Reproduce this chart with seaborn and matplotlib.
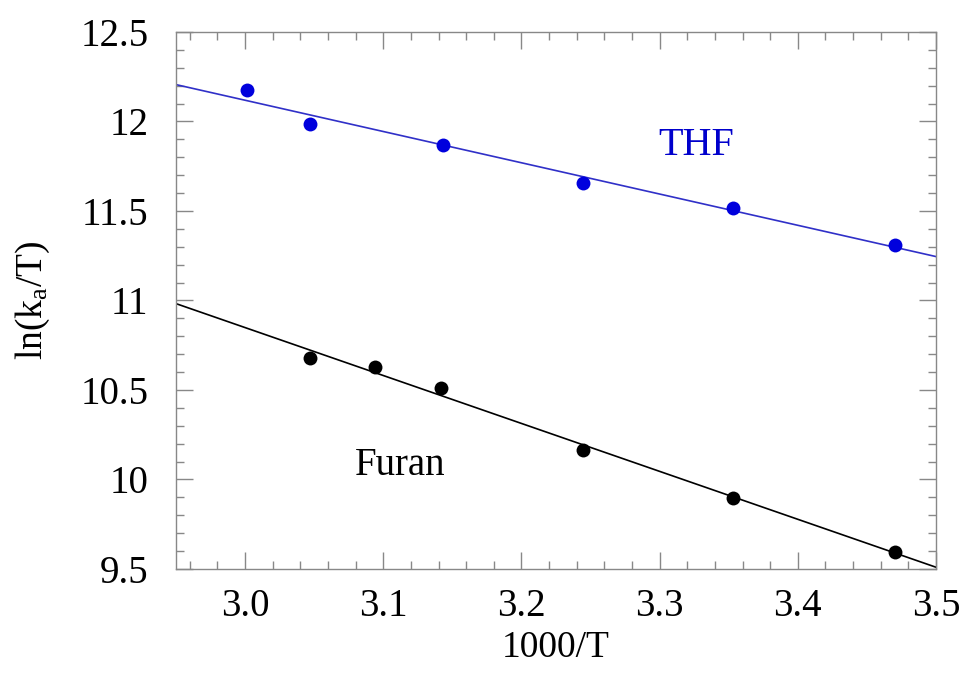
import numpy as np
import pandas as pd
import matplotlib
matplotlib.use('Agg')
import matplotlib.pyplot as plt
import seaborn as sns
from matplotlib.ticker import MultipleLocator, FormatStrFormatter

# Data
thf_x = [3.001, 3.047, 3.143, 3.2445, 3.353, 3.470]
thf_y = [12.176, 11.986, 11.869, 11.656, 11.517, 11.310]
furan_x = [3.047, 3.094, 3.142, 3.2445, 3.353, 3.470]
furan_y = [10.679, 10.628, 10.511, 10.165, 9.897, 9.595]

thf = pd.DataFrame({'x': thf_x, 'y': thf_y})
furan = pd.DataFrame({'x': furan_x, 'y': furan_y})

sns.set_style('ticks')
plt.rcParams['font.family'] = ['Liberation Serif', 'DejaVu Serif']
plt.rcParams['mathtext.fontset'] = 'custom'
plt.rcParams['mathtext.rm'] = 'Liberation Serif'
plt.rcParams['mathtext.default'] = 'regular'
plt.rcParams['text.color'] = 'black'
plt.rcParams['axes.labelcolor'] = 'black'
plt.rcParams['xtick.labelcolor'] = 'black'
plt.rcParams['ytick.labelcolor'] = 'black'

fig = plt.figure(figsize=(9.62, 6.78), dpi=100)
ax = fig.add_axes([0.183, 0.1608, 0.79, 0.792])
ax.set_xlim(2.95, 3.5)
ax.set_ylim(9.5, 12.5)

# fitted lines span the whole x range (truncate=False)
sns.regplot(data=thf, x='x', y='y', ax=ax, ci=None, truncate=False,
            scatter_kws={'s': 100, 'color': '#0000dd', 'alpha': 1, 'linewidths': 0, 'zorder': 3},
            line_kws={'color': '#3030c8', 'lw': 1.2})
sns.regplot(data=furan, x='x', y='y', ax=ax, ci=None, truncate=False,
            scatter_kws={'s': 100, 'color': 'black', 'alpha': 1, 'linewidths': 0, 'zorder': 3},
            line_kws={'color': 'black', 'lw': 1.2})

ax.set_xlim(2.95, 3.5)
ax.set_ylim(9.5, 12.5)

ax.text(3.299, 11.813, 'THF', color='#0000cc', fontsize=29, ha='left', va='baseline')
ax.text(3.0795, 10.025, 'Furan', color='black', fontsize=28, ha='left', va='baseline')

ax.xaxis.set_major_locator(MultipleLocator(0.1))
ax.xaxis.set_minor_locator(MultipleLocator(0.02))
ax.yaxis.set_major_locator(MultipleLocator(0.5))
ax.yaxis.set_minor_locator(MultipleLocator(0.1))
ax.xaxis.set_major_formatter(FormatStrFormatter('%.1f'))
ax.yaxis.set_major_formatter(FormatStrFormatter('%g'))

ax.tick_params(which='both', direction='in', top=True, right=True, color='#888888', width=1)
ax.tick_params(which='major', length=12)
ax.tick_params(which='minor', length=6)
ax.tick_params(axis='x', which='major', labelsize=28, pad=14)
ax.tick_params(axis='y', which='major', labelsize=28, pad=20)

for s in ax.spines.values():
    s.set_color('#888888')
    s.set_linewidth(1)

ax.set_xlabel('1000/T', fontsize=27, labelpad=4)
ax.set_ylabel(r'ln(k$_{a}$/T)', fontsize=27, labelpad=20)

fig.savefig('out.png', dpi=100)
